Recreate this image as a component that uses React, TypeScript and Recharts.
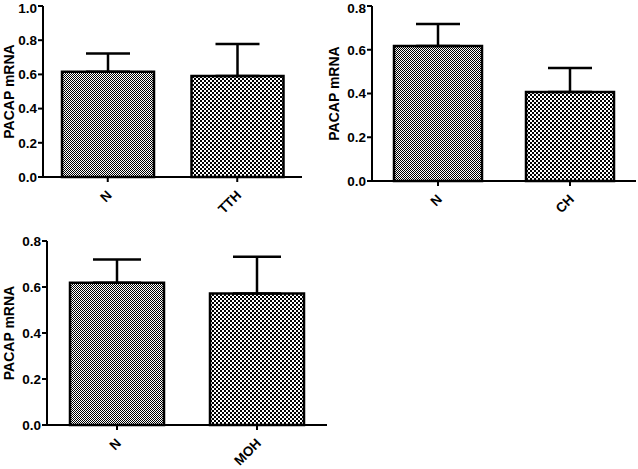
import React from "react";
import { BarChart, Bar, XAxis, YAxis, ErrorBar, Cell } from "recharts";

// values (PACAP mRNA, mean + upper SEM)
const tthGroups = ["N", "TTH"];
const tthMeans = [0.615, 0.59];
const tthErrors = [0.107, 0.188];

const chGroups = ["N", "CH"];
const chMeans = [0.617, 0.407];
const chErrors = [0.101, 0.11];

const mohGroups = ["N", "MOH"];
const mohMeans = [0.618, 0.572];
const mohErrors = [0.102, 0.16];

const ticksTo1 = [0, 0.2, 0.4, 0.6, 0.8, 1.0];
const ticksTo08 = [0, 0.2, 0.4, 0.6, 0.8];

const yLabel = "PACAP mRNA";
const fills = ["url(#fineCheck)", "url(#coarseCheck)"];
const font = "Arial, 'Liberation Sans', Helvetica, sans-serif";

type Row = { name: string; value: number; err: number[] };

function toRows(names: string[], means: number[], errs: number[]): Row[] {
  return names.map((name, i) => ({ name, value: means[i], err: [0, errs[i]] }));
}

type PanelProps = {
  left: number;
  top: number;
  width: number;
  height: number;
  yAxisWidth: number;
  marginTop: number;
  marginRight: number;
  xAxisHeight: number;
  max: number;
  ticks: number[];
  rows: Row[];
  barSize: number;
  capHalf: number;
  labelX: number;
};

function Panel(p: PanelProps) {
  const axisY = p.height - p.xAxisHeight;
  const plotMid = (p.marginTop + axisY) / 2;

  const XTick = (props: any) => {
    const { x, payload } = props;
    return (
      <text
        transform={`translate(${x + 5},${axisY + 19}) rotate(-45)`}
        textAnchor="end"
        fontSize={13.5}
        fontWeight="bold"
        fontFamily={font}
        fill="#000"
      >
        {payload.value}
      </text>
    );
  };

  return (
    <div style={{ position: "absolute", left: p.left, top: p.top, width: p.width, height: p.height }}>
      <BarChart
        width={p.width}
        height={p.height}
        data={p.rows}
        margin={{ top: p.marginTop, right: p.marginRight, bottom: 0, left: 0 }}
      >
        <XAxis
          dataKey="name"
          height={p.xAxisHeight}
          stroke="#000"
          strokeWidth={2}
          tickSize={5}
          tick={<XTick />}
          interval={0}
        />
        <YAxis
          width={p.yAxisWidth}
          domain={[0, p.max]}
          ticks={p.ticks}
          stroke="#000"
          strokeWidth={2}
          tickSize={5}
          tickMargin={1}
          tickFormatter={(v: number) => v.toFixed(1)}
          tick={{ fill: "#000", fontSize: 13.5, fontWeight: "bold", fontFamily: font }}
        />
        <Bar
          dataKey="value"
          barSize={p.barSize}
          stroke="#000"
          strokeWidth={2.5}
          isAnimationActive={false}
        >
          {p.rows.map((r, i) => (
            <Cell key={r.name} fill={fills[i]} />
          ))}
          <ErrorBar
            dataKey="err"
            direction="y"
            width={p.capHalf}
            stroke="#000"
            strokeWidth={2.5}
            isAnimationActive={false}
          />
        </Bar>
      </BarChart>
      <svg
        width={p.width}
        height={p.height}
        style={{ position: "absolute", left: 0, top: 0, pointerEvents: "none" }}
      >
        <text
          transform={`translate(${p.labelX},${plotMid}) rotate(-90)`}
          textAnchor="middle"
          dominantBaseline="central"
          fontSize={14}
          fontWeight="bold"
          fontFamily={font}
          fill="#000"
        >
          {yLabel}
        </text>
      </svg>
    </div>
  );
}

export default function App() {
  return (
    <div
      style={{
        position: "absolute",
        left: 0,
        top: 0,
        width: 638,
        height: 469,
        background: "#fff",
        overflow: "hidden",
      }}
    >
      <svg width={0} height={0} style={{ position: "absolute" }}>
        <defs>
          <pattern id="fineCheck" width={2} height={2} patternUnits="userSpaceOnUse">
            <rect width={2} height={2} fill="#fff" />
            <rect x={0} y={0} width={1} height={1} fill="#000" />
            <rect x={1} y={1} width={1} height={1} fill="#000" />
          </pattern>
          <pattern id="coarseCheck" width={4} height={4} patternUnits="userSpaceOnUse">
            <rect width={4} height={4} fill="#fff" />
            <rect x={0} y={0} width={2} height={2} fill="#000" />
            <rect x={2} y={2} width={2} height={2} fill="#000" />
          </pattern>
        </defs>
      </svg>

      <Panel
        left={0}
        top={0}
        width={310}
        height={230}
        yAxisWidth={43}
        marginTop={6}
        marginRight={8}
        xAxisHeight={53}
        max={1}
        ticks={ticksTo1}
        rows={toRows(tthGroups, tthMeans, tthErrors)}
        barSize={92}
        capHalf={22}
        labelX={9}
      />
      <Panel
        left={320}
        top={0}
        width={318}
        height={230}
        yAxisWidth={52}
        marginTop={6}
        marginRight={2}
        xAxisHeight={49}
        max={0.8}
        ticks={ticksTo08}
        rows={toRows(chGroups, chMeans, chErrors)}
        barSize={88}
        capHalf={22}
        labelX={14}
      />
      <Panel
        left={0}
        top={230}
        width={340}
        height={239}
        yAxisWidth={47}
        marginTop={11}
        marginRight={13}
        xAxisHeight={44}
        max={0.8}
        ticks={ticksTo08}
        rows={toRows(mohGroups, mohMeans, mohErrors)}
        barSize={94}
        capHalf={24}
        labelX={9}
      />
    </div>
  );
}
